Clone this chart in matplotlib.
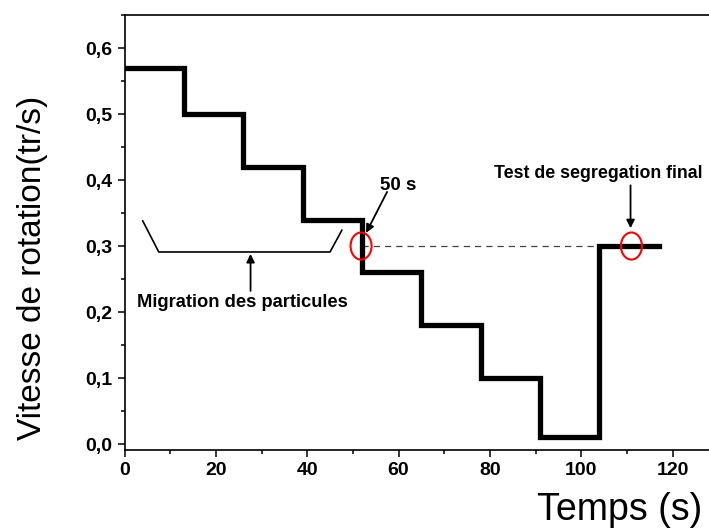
import matplotlib
matplotlib.use("Agg")
import matplotlib.pyplot as plt
from matplotlib.patches import Ellipse
from matplotlib.ticker import MultipleLocator, FuncFormatter

plt.rcParams['font.family'] = ['Liberation Sans', 'DejaVu Sans']

# step profile: start time of each plateau and rotation speed (tr/s)
step_times = [0, 13, 26, 39, 52, 65, 78, 91, 104, 117]
step_speeds = [0.57, 0.50, 0.42, 0.34, 0.26, 0.18, 0.10, 0.01, 0.30, 0.30]

# reference (dashed) line at the final speed
ref_x = [52, 104]
ref_y = [0.30, 0.30]

# bracket marking the particle migration period
bracket_x = [4.0, 7.5, 45.0, 47.6]
bracket_y = [0.338, 0.291, 0.291, 0.324]

# circled points
circle_x = [51.8, 111.0]
circle_y = [0.30, 0.30]

fig = plt.figure(figsize=(7.09, 5.32), dpi=100)
ax = fig.add_axes([0.1756, 0.1541, 0.8374, 0.8177])

ax.step(step_times, step_speeds, where='post', color='black', linewidth=3.8,
        solid_joinstyle='miter', zorder=3)
ax.plot(ref_x, ref_y, color='#444444', linestyle=(0, (5, 4)), linewidth=0.9, zorder=2)
ax.plot(bracket_x, bracket_y, color='black', linewidth=1.2)

for cx, cy in zip(circle_x, circle_y):
    ax.add_patch(Ellipse((cx, cy), width=4.6, height=0.041, fill=False,
                         edgecolor='red', linewidth=1.5, zorder=4))

arrow = dict(arrowstyle='-|>', color='black', lw=1.3, mutation_scale=12,
             shrinkA=0, shrinkB=0)
ax.annotate('', xy=(27.6, 0.288), xytext=(27.6, 0.232), arrowprops=arrow)
ax.annotate('', xy=(52.9, 0.320), xytext=(57.5, 0.382), arrowprops=arrow)
ax.annotate('', xy=(110.8, 0.327), xytext=(110.8, 0.392), arrowprops=arrow)

ax.text(25.9, 0.214, 'Migration des particules', fontsize=13.2, fontweight='bold',
        ha='center', va='center')
ax.text(55.9, 0.391, '50 s', fontsize=13.5, fontweight='bold', ha='left', va='center')
ax.text(80.8, 0.410, 'Test de segregation final', fontsize=12.8, fontweight='bold',
        ha='left', va='center')

ax.set_xlim(0, 130)
ax.set_ylim(-0.009, 0.65)
ax.xaxis.set_major_locator(MultipleLocator(20))
ax.xaxis.set_minor_locator(MultipleLocator(10))
ax.yaxis.set_major_locator(MultipleLocator(0.1))
ax.yaxis.set_minor_locator(MultipleLocator(0.05))
ax.yaxis.set_major_formatter(FuncFormatter(lambda v, p: f"{v:.1f}".replace('.', ',')))

ax.tick_params(which='major', direction='out', length=5, width=1.1, labelsize=14)
ax.tick_params(which='minor', direction='out', length=3, width=1.1)
for lbl in ax.get_xticklabels() + ax.get_yticklabels():
    lbl.set_fontweight('bold')
for sp in ax.spines.values():
    sp.set_linewidth(1.2)

fig.text(0.046, 0.496, 'Vitesse de rotation(tr/s)', fontsize=24, rotation=90,
         ha='center', va='center')
fig.text(0.874, 0.041, 'Temps (s)', fontsize=27, ha='center', va='center')

fig.savefig('out.png', dpi=100)
